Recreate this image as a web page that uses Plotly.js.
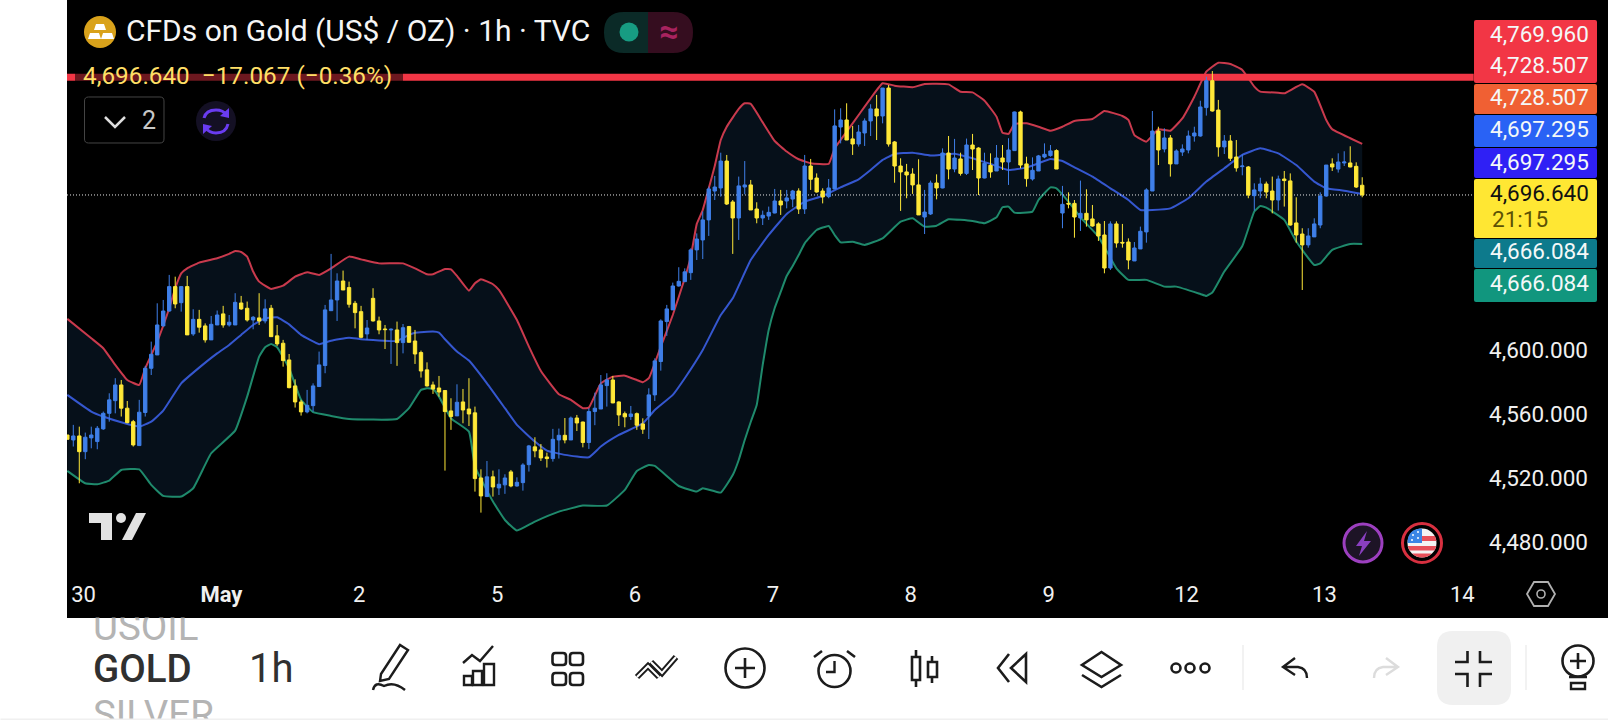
<!DOCTYPE html>
<html><head><meta charset="utf-8">
<script src="https://cdn.plot.ly/plotly-3.0.1.min.js"></script>
<style>html,body{margin:0;padding:0;background:#fff;overflow:hidden}#chart{width:1608px;height:720px}</style>
</head><body><div id="chart"></div>
<script>
// ---------- series values (US$ / OZ, 1h bars) ----------
const open = [4547.0,4543.9,4546.4,4536.6,4545.2,4542.9,4550.8,4560.5,4568.4,4578.2,
4563.7,4555.3,4540.4,4561.0,4588.6,4596.9,4615.0,4624.3,4639.5,4629.5,
4639.5,4610.0,4619.1,4615.0,4606.3,4615.6,4622.5,4615.6,4615.6,4629.3,
4626.0,4618.7,4620.0,4618.1,4626.0,4608.8,4604.2,4593.8,4577.6,4567.6,
4561.4,4565.3,4577.2,4590.3,4624.5,4631.2,4643.0,4638.9,4629.1,4623.9,
4610.0,4632.2,4618.1,4613.1,4612.5,4612.5,4604.6,4614.6,4605.6,4598.4,
4587.6,4578.2,4576.3,4574.7,4562.0,4558.9,4567.6,4563.2,4560.8,4520.2,
4508.6,4520.9,4514.0,4515.9,4524.0,4515.2,4517.3,4528.5,4539.6,4537.7,
4533.3,4532.3,4543.9,4546.8,4543.9,4557.6,4555.1,4542.3,4561.6,4563.2,
4577.8,4581.3,4567.6,4560.3,4558.5,4560.3,4553.9,4558.9,4572.0,4592.8,
4617.7,4625.0,4639.9,4642.6,4648.2,4662.4,4668.6,4681.1,4699.1,4701.0,
4717.8,4692.3,4682.3,4701.6,4702.9,4687.9,4682.3,4683.5,4685.4,4692.9,
4692.9,4694.1,4699.1,4687.9,4714.7,4707.2,4699.1,4695.6,4700.4,4739.0,
4743.4,4731.6,4728.4,4735.3,4742.8,4750.3,4745.9,4763.3,4729.7,4714.7,
4711.0,4709.7,4702.9,4682.9,4684.8,4704.1,4701.0,4722.8,4712.8,4719.1,
4710.1,4727.8,4725.9,4707.2,4715.1,4711.6,4719.7,4717.2,4724.3,4748.4,
4716.0,4706.6,4711.6,4720.3,4721.2,4724.3,4685.4,4691.4,4691.4,4682.3,
4685.2,4681.7,4678.6,4671.7,4651.1,4678.6,4667.1,4667.3,4655.5,4663.0,
4673.6,4699.1,4736.5,4725.3,4732.2,4716.0,4723.4,4724.7,4733.4,4733.4,
4751.1,4767.9,4749.6,4726.6,4730.3,4720.3,4714.3,4714.1,4696.2,4699.1,
4703.5,4699.1,4693.5,4706.6,4705.4,4679.2,4672.3,4665.5,4670.5,4677.9,
4696.0,4716.0,4712.8,4716.6,4716.6,4714.5,4702.7];
const high = [4547.0,4553.3,4552.2,4548.5,4552.2,4552.6,4561.6,4573.0,4582.4,4581.3,
4568.2,4556.4,4568.9,4590.1,4605.2,4629.1,4631.2,4646.8,4645.7,4639.5,
4646.2,4625.4,4625.0,4616.6,4621.2,4624.6,4627.5,4621.8,4635.4,4633.7,
4630.2,4621.2,4635.4,4631.6,4628.1,4615.6,4606.3,4597.5,4581.7,4568.9,
4575.1,4579.2,4599.0,4628.1,4659.9,4647.8,4649.5,4642.6,4630.6,4627.5,
4618.7,4638.5,4620.8,4615.6,4613.5,4617.7,4616.2,4615.0,4612.5,4599.6,
4592.3,4580.3,4583.8,4574.7,4569.9,4578.6,4575.7,4582.4,4564.7,4525.6,
4530.8,4524.8,4525.6,4522.5,4525.2,4520.6,4529.4,4540.8,4545.6,4541.4,
4536.0,4550.8,4551.0,4557.6,4558.5,4559.5,4555.3,4563.7,4573.4,4584.4,
4585.5,4583.8,4568.0,4561.6,4565.1,4561.0,4557.4,4576.1,4594.8,4619.1,
4628.1,4642.0,4651.6,4650.9,4663.4,4672.7,4686.3,4701.8,4708.5,4723.0,
4721.6,4693.5,4708.1,4717.8,4706.0,4692.1,4686.9,4689.4,4700.4,4699.8,
4699.8,4699.8,4700.8,4721.6,4719.1,4710.1,4700.8,4706.6,4750.0,4750.7,
4753.8,4739.7,4740.3,4744.4,4753.2,4759.0,4763.3,4765.2,4730.3,4719.5,
4716.0,4713.3,4718.9,4699.8,4705.6,4709.5,4725.7,4733.4,4731.6,4723.0,
4731.8,4734.7,4726.4,4723.0,4722.6,4727.8,4727.8,4732.0,4748.6,4749.2,
4720.5,4720.1,4721.6,4728.8,4727.8,4725.1,4702.3,4698.3,4693.5,4705.6,
4700.2,4690.4,4679.6,4680.4,4680.2,4680.2,4678.6,4669.6,4667.3,4676.9,
4700.8,4749.0,4739.2,4738.2,4734.0,4725.1,4728.2,4736.8,4739.2,4755.4,
4770.4,4773.9,4755.9,4734.0,4734.0,4730.9,4722.0,4714.7,4703.9,4707.4,
4705.0,4708.1,4708.7,4711.6,4710.1,4695.2,4675.9,4675.9,4682.1,4698.3,
4715.3,4719.5,4722.6,4723.9,4727.0,4717.0,4707.7];
const low = [4544.3,4539.8,4516.9,4531.9,4538.7,4538.1,4550.2,4555.3,4560.5,4558.5,
4554.3,4539.8,4540.4,4558.5,4584.4,4596.9,4614.6,4623.9,4626.0,4623.9,
4609.4,4608.8,4610.8,4604.6,4606.3,4615.6,4613.9,4614.6,4615.6,4625.0,
4617.7,4612.9,4615.6,4616.6,4608.3,4602.5,4589.6,4576.1,4564.1,4559.1,
4560.5,4561.6,4577.2,4585.5,4624.5,4618.1,4637.4,4626.4,4613.5,4607.3,
4606.3,4617.7,4609.8,4600.6,4591.3,4590.1,4597.9,4604.6,4591.3,4582.8,
4577.2,4572.6,4570.9,4524.8,4550.2,4558.9,4554.3,4552.6,4511.7,4498.6,
4508.6,4508.6,4509.6,4510.3,4514.4,4514.8,4512.3,4524.2,4533.1,4530.8,
4526.7,4530.4,4532.3,4541.8,4543.9,4549.5,4539.3,4538.3,4553.1,4563.2,
4564.7,4566.8,4552.6,4551.8,4556.4,4550.2,4547.7,4544.5,4568.2,4587.1,
4608.8,4625.0,4639.5,4642.6,4643.7,4656.1,4656.7,4671.1,4693.5,4695.6,
4690.4,4659.9,4668.6,4697.1,4687.3,4679.0,4677.9,4681.1,4685.2,4684.2,
4688.3,4689.0,4684.8,4684.8,4699.8,4698.1,4691.4,4694.6,4700.4,4728.8,
4730.9,4721.6,4726.8,4727.2,4733.4,4730.9,4741.3,4726.8,4704.3,4686.7,
4694.6,4697.3,4684.2,4672.3,4684.2,4693.9,4700.8,4706.4,4710.8,4708.7,
4709.1,4712.2,4696.6,4707.0,4707.4,4711.6,4712.2,4702.9,4724.1,4713.3,
4701.8,4705.6,4711.6,4719.5,4720.5,4712.8,4675.9,4688.3,4670.0,4674.2,
4676.9,4676.9,4668.0,4647.8,4649.9,4663.8,4663.8,4650.3,4655.5,4663.0,
4666.9,4699.1,4715.3,4723.2,4708.1,4716.0,4721.0,4722.6,4729.9,4733.0,
4746.1,4748.6,4720.5,4722.2,4717.8,4711.2,4708.9,4694.6,4686.9,4694.6,
4694.6,4685.2,4686.9,4689.4,4677.5,4666.9,4637.4,4663.8,4670.5,4675.9,
4695.6,4711.6,4710.6,4714.7,4713.9,4701.0,4695.2];
const close = [4544.3,4546.4,4536.6,4545.6,4547.0,4551.2,4560.5,4568.9,4578.2,4563.7,
4554.7,4540.8,4561.2,4588.6,4597.3,4615.6,4624.3,4639.5,4628.7,4639.5,
4609.4,4619.1,4614.2,4606.3,4616.0,4621.8,4615.6,4617.3,4629.7,4625.6,
4618.7,4620.4,4618.1,4625.6,4608.3,4603.8,4593.4,4576.5,4567.6,4561.4,
4565.5,4577.6,4590.7,4625.0,4631.2,4643.0,4637.4,4628.5,4623.3,4607.9,
4613.7,4618.1,4612.5,4612.7,4612.9,4604.6,4613.9,4604.8,4597.5,4586.9,
4577.6,4575.7,4573.8,4561.6,4558.5,4567.4,4562.6,4560.1,4519.8,4509.0,
4520.9,4514.6,4516.3,4520.2,4515.2,4517.5,4528.3,4540.2,4537.1,4532.7,
4532.3,4544.3,4546.8,4543.9,4557.6,4554.5,4542.3,4561.6,4563.7,4578.2,
4581.3,4567.0,4559.5,4558.3,4560.1,4553.1,4550.6,4572.0,4593.2,4618.1,
4625.6,4639.9,4642.8,4648.7,4662.4,4669.2,4681.1,4700.4,4701.6,4717.8,
4691.0,4682.3,4702.3,4702.9,4687.3,4682.3,4684.0,4685.8,4692.9,4690.4,
4694.8,4699.1,4687.9,4714.7,4706.4,4698.5,4695.4,4701.0,4739.7,4743.4,
4730.9,4728.4,4735.9,4742.8,4750.3,4745.9,4763.3,4728.4,4714.7,4711.0,
4709.1,4702.9,4684.2,4686.0,4704.1,4701.0,4722.8,4712.8,4719.7,4710.1,
4727.8,4725.3,4707.2,4716.4,4711.0,4719.7,4717.2,4724.7,4748.4,4715.3,
4706.8,4712.0,4721.0,4722.0,4724.1,4712.8,4690.8,4691.0,4682.9,4685.2,
4681.1,4677.3,4671.1,4651.1,4678.6,4666.7,4666.7,4656.1,4663.6,4674.0,
4699.8,4736.5,4724.7,4732.2,4716.0,4724.1,4725.3,4733.4,4735.3,4751.5,
4767.9,4749.0,4726.6,4730.3,4719.5,4713.5,4714.7,4696.6,4699.8,4703.5,
4698.5,4693.5,4706.6,4705.6,4677.9,4671.7,4665.5,4671.1,4678.6,4696.0,
4715.3,4714.1,4717.2,4717.2,4714.1,4701.6,4696.64];

// Bollinger bands, sampled at the listed bars
const upperBar = [1,5,7,9,11,13,14,16,18,19,20,21,23,26,28,29,30,31,32,33,35,37,39,41,43,45,48,50,53,57,59,61,62,64,65,66,68,69,70,72,73,76,78,80,83,85,87,88,90,92,94,96,97,98,100,102,104,105,106,107,108,109,110,111,113,114,115,117,119,121,123,125,128,129,131,133,135,137,139,142,144,148,150,152,154,156,157,158,159,161,163,165,167,169,172,174,177,178,179,181,183,185,187,189,191,193,195,197,199,200,203,204,207,209,211,212,215,217];
const upperBand = [4619.4,4607.3,4601.1,4590.7,4581.3,4578.2,4588.6,4605.2,4626.0,4638.5,4647.8,4650.9,4654.5,4657.2,4659.9,4661.7,4661.1,4658.2,4648.9,4642.6,4638.1,4640.1,4645.7,4648.4,4646.8,4650.9,4658.2,4656.5,4654.0,4654.0,4650.9,4647.2,4647.2,4650.5,4650.3,4646.2,4637.0,4641.6,4644.1,4641.0,4637.4,4618.7,4602.1,4586.9,4572.4,4568.9,4563.7,4564.1,4579.2,4583.4,4584.0,4581.3,4579.9,4582.4,4602.1,4621.8,4644.7,4658.2,4678.6,4687.3,4700.8,4714.7,4730.9,4739.2,4750.3,4753.8,4753.4,4741.9,4730.3,4723.7,4718.9,4716.4,4716.0,4725.7,4736.1,4746.5,4756.9,4766.3,4764.8,4763.8,4765.8,4765.6,4761.0,4760.6,4755.4,4745.5,4735.5,4734.7,4740.9,4741.3,4739.2,4736.7,4739.2,4742.8,4744.0,4749.0,4745.9,4743.4,4734.0,4729.9,4737.6,4736.7,4744.4,4757.9,4773.5,4779.1,4778.3,4774.6,4764.2,4761.1,4760.4,4760.0,4765.6,4761.0,4743.4,4737.6,4732.0,4728.507];
const middleBar = [1,5,7,10,13,15,17,20,23,26,28,30,32,34,36,38,40,43,45,48,50,56,58,59,62,63,64,66,68,71,74,76,79,81,84,88,90,93,97,99,102,104,107,110,112,115,118,121,124,127,130,133,135,137,139,142,145,149,152,155,158,161,163,165,167,169,172,175,178,180,182,185,188,191,194,197,200,203,206,209,211,214,217];
const middleBand = [4572.0,4561.6,4558.5,4554.9,4552.2,4555.3,4562.2,4579.2,4589.0,4597.9,4603.1,4609.4,4615.6,4619.8,4620.4,4616.0,4609.4,4603.6,4605.8,4607.7,4606.7,4605.6,4609.4,4610.8,4611.5,4610.8,4606.7,4599.0,4593.4,4579.2,4563.7,4553.3,4542.9,4537.3,4534.6,4533.1,4539.8,4547.0,4554.3,4562.6,4572.0,4582.4,4600.0,4621.8,4632.2,4656.1,4671.7,4684.8,4692.5,4696.0,4701.4,4706.4,4712.2,4718.5,4722.2,4723.0,4721.2,4722.4,4719.5,4716.0,4712.2,4713.7,4716.4,4719.1,4717.8,4713.9,4708.1,4700.8,4693.5,4687.3,4687.3,4688.3,4694.6,4705.0,4713.3,4721.6,4725.7,4722.6,4715.3,4705.0,4700.8,4699.3,4697.295];
const lowerBar = [1,4,6,8,10,13,15,17,20,22,25,29,31,33,34,35,36,38,40,42,45,48,56,58,60,61,62,63,65,68,69,72,74,76,79,83,87,91,94,96,98,99,103,106,107,110,112,113,114,115,116,117,118,119,120,121,122,123,124,126,128,129,130,132,134,137,140,142,144,146,148,152,154,156,157,158,159,162,163,165,166,168,170,173,176,178,181,184,186,190,191,192,194,197,199,200,201,204,206,209,210,212,215,217];
const lowerBand = [4524.6,4516.9,4516.3,4518.6,4525.2,4525.6,4515.9,4509.0,4508.6,4513.8,4535.6,4549.7,4570.9,4595.9,4601.7,4603.8,4601.7,4588.6,4568.9,4561.2,4558.9,4557.0,4557.0,4563.7,4575.1,4576.1,4575.7,4570.9,4557.4,4549.1,4527.3,4505.5,4494.0,4487.4,4493.0,4499.2,4503.0,4503.0,4512.8,4524.6,4528.3,4527.7,4515.2,4511.7,4513.8,4511.1,4522.0,4531.4,4543.9,4555.1,4565.7,4590.7,4612.5,4626.2,4636.2,4646.1,4652.4,4659.2,4666.5,4674.8,4677.3,4671.7,4667.1,4667.5,4665.5,4669.6,4680.0,4682.1,4676.9,4677.5,4681.5,4680.4,4679.0,4682.7,4689.0,4689.4,4685.6,4686.3,4693.5,4701.4,4700.8,4692.5,4682.7,4670.7,4650.9,4643.7,4643.7,4639.5,4639.5,4634.9,4633.7,4635.8,4648.9,4664.8,4686.3,4689.8,4688.7,4681.1,4667.6,4653.0,4654.0,4662.4,4666.1,4666.084];

// Levels, tick labels, price tags, header text
const alertPrice = 4769.96;
const lastPrice = 4696.64;
const levelSpan = [0.95, 235.6];
const dayTickBars = [3.7,26.7,49.7,72.7,95.7,118.7,141.7,164.7,187.7,210.7,233.7];
const dayTickLabels = ['30','<b>May</b>','2','5','6','7','8','9','12','13','14'];
const priceTicks = [4480,4520,4560,4600,4800];
const priceTickLabels = ['4,480.000','4,520.000','4,560.000','4,600.000','4,800.000'];
const titleText = 'CFDs on Gold (US$ / OZ) · 1h · TVC';
const quoteText = '4,696.640  −17.067 (−0.36%)';

// ---------- page-pixel helpers for the app chrome ----------
const W = 1608, H = 720;
const fx = x => x / W, fy = y => 1 - y / H;
const conv = s => s.replace(/(-?\d+(?:\.\d+)?)[ ,](-?\d+(?:\.\d+)?)/g, (m, x, y) => fx(+x).toFixed(5) + ',' + fy(+y).toFixed(5));
const shapes = [], notes = [];
const base = {xref:'paper', yref:'paper', layer:'above'};
function rect(x0,y0,x1,y1,fill,stroke,w){shapes.push({...base,type:'rect',x0:fx(x0),x1:fx(x1),y0:fy(y1),y1:fy(y0),fillcolor:fill||'rgba(0,0,0,0)',line:{color:stroke||'rgba(0,0,0,0)',width:stroke?(w||2):0}});}
function circ(cx,cy,r,fill,stroke,w){shapes.push({...base,type:'circle',x0:fx(cx-r),x1:fx(cx+r),y0:fy(cy+r),y1:fy(cy-r),fillcolor:fill||'rgba(0,0,0,0)',line:{color:stroke||'rgba(0,0,0,0)',width:stroke?(w||2):0}});}
function path(d,stroke,w,fill){shapes.push({...base,type:'path',path:conv(d),fillcolor:fill||'rgba(0,0,0,0)',line:{color:stroke||'rgba(0,0,0,0)',width:stroke?(w||2.5):0}});}
function rrect(x0,y0,x1,y1,r,fill,stroke,w){path(`M${x0+r} ${y0} L${x1-r} ${y0} Q${x1} ${y0} ${x1} ${y0+r} L${x1} ${y1-r} Q${x1} ${y1} ${x1-r} ${y1} L${x0+r} ${y1} Q${x0} ${y1} ${x0} ${y1-r} L${x0} ${y0+r} Q${x0} ${y0} ${x0+r} ${y0} Z`,stroke,w,fill);}
function text(x,y,t,size,color,anchor,weight,extra){notes.push({xref:'paper',yref:'paper',x:fx(x),y:fy(y),text:t,showarrow:false,xanchor:anchor||'left',yanchor:'middle',borderpad:0,font:{family:'Roboto, sans-serif',size:size,color:color,weight:weight||400},...(extra||{})});}

// price tags on the right
rrect(1474,20,1597,83,2,'#f23645');
rrect(1474,84,1597,114,2,'#f06033');
rrect(1474,115,1597,147,2,'#2962f5');
rrect(1474,148,1597,178,2,'#2f20f5');
rrect(1474,179,1597,238,2,'#ffe733');
rrect(1474,239,1597,268,2,'#0d7a8c');
rrect(1474,269,1597,302,2,'#11967e');
const tagX = 1590;
[[34,'4,769.960'],[65,'4,728.507'],[97,'4,728.507'],[129,'4,697.295'],[162,'4,697.295'],[251,'4,666.084'],[283,'4,666.084']].forEach(a=>text(tagX,a[0],a[1],22.5,'#f4f8f8','right'));
text(tagX,193,'4,696.640',22.5,'#111','right');
text(1491,219,'21:15',22.5,'#5c5205','left');

// dim strip under the quote line
rect(75,73,403,81,'rgba(0,0,0,0.55)');

// header
circ(100,32,16,'#d9a21b');
path('M96 24 L104 24 L106 30 L94 30 Z',null,0,'#fff');
path('M90 33 L99 33 L101 39 L88 39 Z',null,0,'#fff');
path('M103 33 L112 33 L114 39 L101 39 Z',null,0,'#fff');
text(125,31,titleText,30,'#f5f5f5');
path('M624 12 L648 12 L648 53 L624 53 Q604 53 604 32.5 Q604 12 624 12 Z',null,0,'#0b2a27');
path('M648 12 L673 12 Q693 12 693 32.5 Q693 53 673 53 L648 53 Z',null,0,'#350d1f');
circ(629,32,9.5,'#179c82');
text(669,31,'≈',34,'#a8235f','center',700);
text(82,76,quoteText,24.3,'#ffdf66');
rrect(84.5,97,164,143,4,'rgba(0,0,0,0)','#444',1);
path('M105 117 L115 127 L125 117','#dddddd',2.5);
text(149,120.5,'2',25,'#c8c8c8','center');
circ(216,121,20,'#141024');
path('M204 118 Q206 110 216 110 Q223 110 227 115','#6a3cf0',3);
path('M229 108 L229 118 L220 116 Z',null,0,'#6a3cf0');
path('M228 124 Q226 133 216 133 Q209 133 205 127','#6a3cf0',3);
path('M203 134 L203 124 L212 126 Z',null,0,'#6a3cf0');

// watermark
path('M89 513 L112 513 L112 540 L101 540 L101 523 L89 523 Z',null,0,'#e2e2e2');
circ(121,518,5,'#e2e2e2');
path('M136 513 L146 513 L132 540 L122 540 Z',null,0,'#e2e2e2');

// round badges
circ(1363,543,19,'#1d1426','#9c3fbf',3);
path('M1367 531 L1356 546 L1362 546 L1359 556 L1371 541 L1364 541 Z',null,0,'#8a3fc0');
circ(1422,543,19.5,'#000','#d83040',3);
circ(1422,543,14.5,'#f4f4f4');
path('M1409 536 L1435 536 L1436.4 541 L1407.6 541 Z',null,0,'#e8505a');
path('M1407.7 546 L1436.3 546 L1434.5 550.5 L1409.5 550.5 Z',null,0,'#e8505a');
path('M1412 553.5 L1432 553.5 Q1428 557.5 1422 557.5 Q1416 557.5 1412 553.5 Z',null,0,'#e8505a');
path('M1422 528.5 L1422 543 L1407.5 543 Q1407.5 528.5 1422 528.5 Z',null,0,'#3b86e6');
[[1413,535],[1418,532],[1418,538],[1412,540]].forEach(c=>circ(c[0],c[1],1,'#fff'));
path('M1527 594 L1534 582 L1548 582 L1555 594 L1548 606 L1534 606 Z','#b0b0b0',1.8);
circ(1541,594,4,null,'#b0b0b0',1.6);

// bottom toolbar
const ink = '#1c1c1c';
text(92,626,'USOIL',38.5,'#b4b4b4');
text(92,668,'GOLD',38.5,'#303030','left',500);
text(248,668,'1h',40,'#303030');
text(92,714,'SILVER',38.5,'#b4b4b4');
notes.push({xref:'paper',yref:'paper',x:fx(67),y:fy(608),xanchor:'left',yanchor:'top',showarrow:false,text:' ',bgcolor:'#000',width:260,height:8,borderpad:0,font:{size:2}});
notes.push({xref:'paper',yref:'paper',x:0,y:fy(717.5),xanchor:'left',yanchor:'top',showarrow:false,text:' ',bgcolor:'#f0f0f0',width:1608,height:4,borderpad:0,font:{size:2}});
// pencil
path('M381 674 L400 645 L408 650 L389 679 L380 681 Z',ink,2.4);
path('M373 690 Q375 681 384 686 Q394 681 405 690',ink,2.4);
// indicators
path('M463 663 L472 655 L480 661 L493 646',ink,2.4);
rect(464,676,472,685,null,ink,2.4); rect(473,671,482,685,null,ink,2.4); rect(484,664,494,685,null,ink,2.4);
// grid
rrect(552.5,653,566,665,3,null,ink,2.6); rrect(570,653,583,665,3,null,ink,2.6);
rrect(552.5,673,566,685,3,null,ink,2.6); rrect(570,673,583,685,3,null,ink,2.6);
// drawing templates
path('M637 677 L648 666 L659 677',ink,6); path('M637 677 L648 666 L659 677','#fff',2);
path('M651 662 L662 673 L676 657',ink,6); path('M651 662 L662 673 L676 657','#fff',2);
// plus
circ(745,668,19.5,null,ink,2.6);
path('M735 668 L755 668 M745 658 L745 678',ink,2.6);
// alarm
circ(834.5,671,16,null,ink,2.6);
path('M834.5 661 L834.5 672 L826 672',ink,2.4);
path('M814 657 L822 651 M855 657 L847 651',ink,2.6);
// candles
rect(912,657,920,680,null,ink,2.6); path('M916 650 L916 657 M916 680 L916 687',ink,2.6);
rect(928,662,937,677,null,ink,2.6); path('M932 656 L932 662 M932 677 L932 683',ink,2.6);
// rewind
path('M1009 654 L998 668 L1009 682',ink,2.6);
path('M1026 654 L1011 668 L1026 682 Z',ink,2.6);
// layers
path('M1101.5 652 L1121 665 L1101.5 677 L1082 665 Z',ink,2.6);
path('M1082 675 L1101.5 687 L1121 675',ink,2.6);
// more
circ(1176,668,4.5,null,ink,2.6); circ(1190,668,4.5,null,ink,2.6); circ(1205,668,4.5,null,ink,2.6);
rect(1242.5,645,1243.5,690,'#e6e6e6');
// undo / redo
path('M1295 658 L1283 667 L1295 675 M1283 667 L1298 667 Q1307 668 1307 678',ink,2.4);
path('M1386 658 L1398 667 L1386 675 M1398 667 L1383 667 Q1374 668 1374 678','#dcdcdc',2.4);
// fullscreen exit
rrect(1437,631,1511,705,16,'#f0f0f0');
path('M1455 662 L1467.5 662 L1467.5 651 M1480 651 L1480 662 L1492 662 M1455 674 L1467.5 674 L1467.5 687 M1492 674 L1480 674 L1480 687',ink,2.6);
rect(1525.5,645,1526.5,690,'#e6e6e6');
// idea bulb
circ(1578,661,15.5,null,ink,2.6);
path('M1570 661 L1586 661 M1578 653 L1578 669',ink,2.6);
path('M1569 677 L1587 677 M1571 683 L1585 683 L1585 689 L1571 689 Z',ink,2.4);

// ---------- traces ----------
const bars = open.map((_, i) => i + 1);
const bandLine = (x, y, color, extra) => ({type:'scatter', mode:'lines', x, y, hoverinfo:'skip', showlegend:false,
  line:{color, width:2, shape:'spline', smoothing:0.35}, ...(extra||{})});
const traces = [
  bandLine(lowerBar, lowerBand, '#1f8a6c'),
  bandLine(upperBar, upperBand, '#c93a4d', {fill:'tonexty', fillcolor:'#06101a'}),
  bandLine(middleBar, middleBand, '#3557cf'),
  {type:'scatter', mode:'lines', x:levelSpan, y:[alertPrice, alertPrice], hoverinfo:'skip', showlegend:false, line:{color:'#f23645', width:7}},
  {type:'scatter', mode:'lines', x:levelSpan, y:[lastPrice, lastPrice], hoverinfo:'skip', showlegend:false, line:{color:'#e8e8e8', width:1, dash:'1px,2px'}},
  {type:'candlestick', x:bars, open, high, low, close, xaxis:'x2', yaxis:'y2', hoverinfo:'skip', showlegend:false, whiskerwidth:0,
    increasing:{line:{color:'#3f7fe8', width:1}, fillcolor:'#3f7fe8'},
    decreasing:{line:{color:'#ffe838', width:1}, fillcolor:'#ffe838'}}
];
const xRange = [0.95, 258.0], yRange = [4432.9, 4818.2];
const xDomain = [67/W, 1], yDomain = [102/H, 1];
const layout = {
  width:W, height:H, margin:{l:0,r:0,t:0,b:0,autoexpand:false},
  paper_bgcolor:'#fff', plot_bgcolor:'#000', showlegend:false, boxgap:0.2,
  font:{family:'Roboto, sans-serif', color:'#f0f0f0'},
  xaxis:{domain:xDomain, range:xRange, fixedrange:true, showgrid:false, zeroline:false, showline:false,
    tickmode:'array', tickvals:dayTickBars, ticktext:dayTickLabels, ticks:'', ticklabelposition:'inside', ticklabelstandoff:9,
    tickfont:{size:22, color:'#f0f0f0', family:'Roboto, sans-serif'}, rangeslider:{visible:false}},
  yaxis:{domain:yDomain, range:yRange, fixedrange:true, side:'right', anchor:'x', showgrid:false, zeroline:false, showline:false,
    tickmode:'array', tickvals:priceTicks, ticktext:priceTickLabels, ticks:'', ticklabelposition:'inside', ticklabelstandoff:17,
    tickfont:{size:22.5, color:'#f0f0f0', family:'Roboto, sans-serif'}},
  xaxis2:{domain:xDomain, range:xRange, overlaying:'x', anchor:'y2', fixedrange:true, visible:false, rangeslider:{visible:false}},
  yaxis2:{domain:yDomain, range:yRange, overlaying:'y', anchor:'x2', fixedrange:true, visible:false},
  shapes:shapes, annotations:notes
};
Plotly.newPlot('chart', traces, layout, {displayModeBar:false, staticPlot:true, responsive:false});
</script></body></html>
